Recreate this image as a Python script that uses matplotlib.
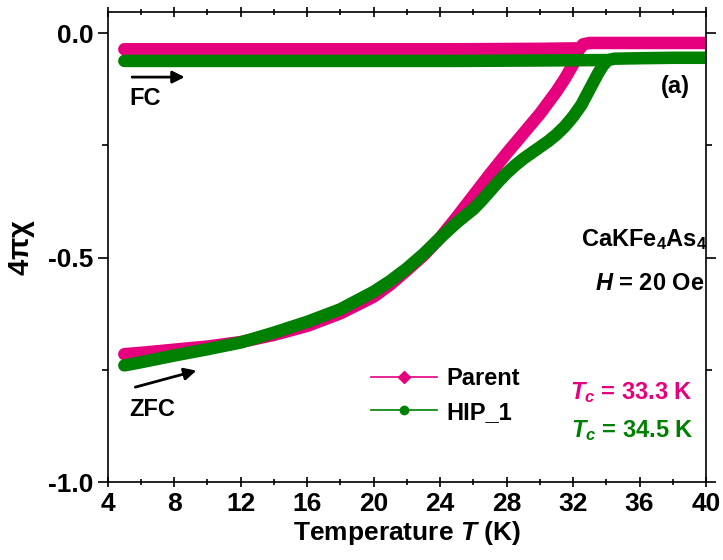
import numpy as np
import matplotlib.pyplot as plt
from matplotlib.lines import Line2D
from matplotlib.font_manager import FontProperties

plt.rcParams['font.family'] = ['Liberation Sans', 'DejaVu Sans']
plt.rcParams['font.weight'] = 'bold'
plt.rcParams['axes.labelweight'] = 'bold'
plt.rcParams['mathtext.fontset'] = 'custom'
plt.rcParams['mathtext.it'] = 'Liberation Sans:bold:italic'
plt.rcParams['mathtext.bf'] = 'Liberation Sans:bold'
plt.rcParams['mathtext.rm'] = 'Liberation Sans'

PINK = '#E6007E'
GREEN = '#008000'
bold17 = FontProperties(family='Liberation Sans', weight='bold', size=17)

# Parent sample, field cooled and zero-field cooled
parent_fc_T = [5, 10, 15, 20, 25, 30, 32.2]
parent_fc_chi = [-0.036, -0.036, -0.036, -0.036, -0.036, -0.035, -0.034]
parent_zfc_T = [5, 6, 8, 10, 12, 14, 16, 18, 20, 21, 22, 23, 24, 25, 26, 27, 28,
                29, 30, 31, 31.5, 32, 32.3, 32.6, 33, 34, 36, 38, 40]
parent_zfc_chi = [-0.715, -0.712, -0.705, -0.698, -0.688, -0.672, -0.652, -0.624,
                  -0.587, -0.560, -0.528, -0.495, -0.456, -0.410, -0.362, -0.314,
                  -0.268, -0.224, -0.180, -0.130, -0.102, -0.070, -0.040, -0.025,
                  -0.022, -0.022, -0.022, -0.022, -0.022]

# HIP_1 sample
hip_fc_T = [5, 10, 15, 20, 25, 30, 34]
hip_fc_chi = [-0.062, -0.062, -0.062, -0.062, -0.062, -0.061, -0.060]
hip_zfc_T = [5, 6, 8, 10, 12, 14, 16, 18, 20, 21, 22, 23, 24, 25, 26, 26.5, 27,
             27.5, 28, 28.5, 29, 29.5, 30, 30.5, 31, 31.5, 32, 32.5, 33, 33.5,
             33.8, 34.1, 34.5, 36, 38, 40]
hip_zfc_chi = [-0.740, -0.733, -0.718, -0.704, -0.689, -0.667, -0.643, -0.615,
               -0.576, -0.552, -0.524, -0.492, -0.456, -0.422, -0.392, -0.373,
               -0.352, -0.331, -0.312, -0.295, -0.280, -0.267, -0.254, -0.241,
               -0.226, -0.208, -0.186, -0.160, -0.125, -0.090, -0.072, -0.060,
               -0.057, -0.056, -0.055, -0.055]

fig = plt.figure(figsize=(7.23, 5.6), dpi=100)
ax = fig.add_axes([0.149, 0.139, 0.8275, 0.8396])

lw = 9
for T, chi, c in [(parent_fc_T, parent_fc_chi, PINK),
                  (parent_zfc_T, parent_zfc_chi, PINK),
                  (hip_fc_T, hip_fc_chi, GREEN),
                  (hip_zfc_T, hip_zfc_chi, GREEN)]:
    ax.plot(T, chi, color=c, lw=lw, solid_capstyle='round', solid_joinstyle='round')

ax.set_xlim(4, 40)
ax.set_ylim(-1.0, 0.047)
ax.set_xticks(np.arange(4, 41, 4))
ax.set_xticks(np.arange(4, 41, 2), minor=True)
ax.set_yticks([-1.0, -0.5, 0.0])
ax.set_yticks([-0.75, -0.25], minor=True)
ax.set_yticklabels(['-1.0', '-0.5', '0.0'])

ax.tick_params(axis='both', which='major', labelsize=19, length=7, width=1.2)
ax.tick_params(axis='both', which='minor', length=4, width=1.2)
ax.tick_params(axis='x', which='both', top=True, direction='inout')
ax.tick_params(axis='y', which='both', right=True, direction='out')
for lab in ax.get_xticklabels() + ax.get_yticklabels():
    lab.set_weight('bold')
for sp in ax.spines.values():
    sp.set_linewidth(1.2)

ax.set_xlabel(r'Temperature $T$ (K)', fontsize=19, fontweight='bold', labelpad=2)
ax.set_ylabel(r'$\mathbf{4}\mathrm{\pi\chi}$', fontsize=21, labelpad=8)

# arrows for field-cooled and zero-field-cooled branches
ax.annotate('', xy=(8.8, -0.098), xytext=(5.3, -0.098),
            arrowprops=dict(arrowstyle='-|>', color='black', lw=2, mutation_scale=18))
ax.text(5.3, -0.145, 'FC', fontproperties=bold17, ha='left', va='center')
ax.annotate('', xy=(9.5, -0.75), xytext=(5.5, -0.79),
            arrowprops=dict(arrowstyle='-|>', color='black', lw=2, mutation_scale=18))
ax.text(5.3, -0.838, 'ZFC', fontproperties=bold17, ha='left', va='center')

ax.text(39.0, -0.12, '(a)', fontproperties=bold17, ha='right', va='center')
ax.text(36.3, -0.46, r'CaKFe$_\mathbf{4}$As$_\mathbf{4}$', fontproperties=bold17,
        ha='center', va='center')
ax.text(36.6, -0.557, r'$H$ = 20 Oe', fontproperties=bold17,
        ha='center', va='center')

ax.text(31.8, -0.80, r'$T_c$ = 33.3 K', fontproperties=bold17,
        color=PINK, ha='left', va='center')
ax.text(31.9, -0.885, r'$T_c$ = 34.5 K', fontproperties=bold17,
        color=GREEN, ha='left', va='center')

handles = [Line2D([], [], color=PINK, lw=1.2, marker='D', ms=6),
           Line2D([], [], color=GREEN, lw=1.2, marker='o', ms=6)]
leg = ax.legend(handles, ['Parent', 'HIP_1'], loc='upper left',
                bbox_to_anchor=(0.42, 0.27), frameon=False,
                prop={'size': 17, 'weight': 'bold'}, handlelength=2.8,
                handletextpad=0.4, labelspacing=0.45, borderpad=0)

fig.savefig('out.png', dpi=100)
